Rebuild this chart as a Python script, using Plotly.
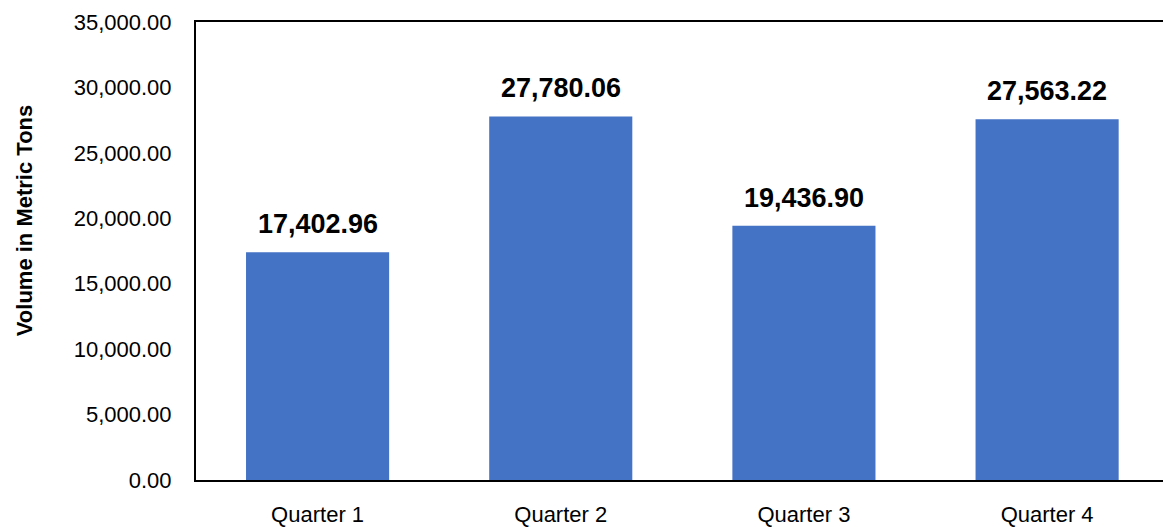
import plotly.graph_objects as go

categories = ["Quarter 1", "Quarter 2", "Quarter 3", "Quarter 4"]
volumes = [17402.96, 27780.06, 19436.90, 27563.22]
y_title = "Volume in Metric Tons"

FONT = "Liberation Sans Narrow, Arial Narrow, Liberation Sans, Arial, sans-serif"
BAR_COLOR = "#4472C4"

fig = go.Figure()
fig.add_trace(go.Bar(
    x=list(range(len(categories))),
    y=volumes,
    width=0.5885,
    marker=dict(color=BAR_COLOR, line=dict(width=0)),
    hoverinfo="skip",
))

for i, v in enumerate(volumes):
    fig.add_annotation(
        x=i, y=v, xref="x", yref="y",
        text=f"{v:,.2f}",
        showarrow=False,
        yanchor="bottom",
        yshift=11,
        font=dict(family=FONT, size=27, color="#000000", weight="bold"),
    )

# y-axis title as rotated annotation (sits slightly above plot centre, as in reference)
fig.add_annotation(
    x=-0.178, y=0.567, xref="paper", yref="paper",
    text=y_title, textangle=-90, showarrow=False,
    xanchor="center", yanchor="middle",
    font=dict(family=FONT, size=22, color="#000000", weight="bold"),
)

fig.update_layout(
    width=1163, height=527,
    margin=dict(l=196, r=0, t=22, b=45),
    paper_bgcolor="white", plot_bgcolor="white",
    showlegend=False,
    font=dict(family=FONT, color="#000000"),
    xaxis=dict(
        range=[-0.5, 3.4766],
        tickmode="array",
        tickvals=list(range(len(categories))),
        ticktext=categories,
        tickfont=dict(family=FONT, size=22, color="#000000"),
        showline=True, linecolor="#000000", linewidth=2,
        mirror=True,
        showgrid=False, zeroline=False,
        ticks="", ticklabelstandoff=14,
    ),
    yaxis=dict(
        range=[0, 35000],
        dtick=5000,
        tick0=0,
        tickformat=",.2f",
        tickfont=dict(family=FONT, size=22, color="#000000"),
        showline=True, linecolor="#000000", linewidth=2,
        showgrid=False, zeroline=False,
        ticks="", ticklabelstandoff=18,
    ),
)

fig.write_html(
    "out.html",
    config={"displayModeBar": False},
    post_script="document.body.style.margin='0';document.body.style.overflow='hidden';",
)
